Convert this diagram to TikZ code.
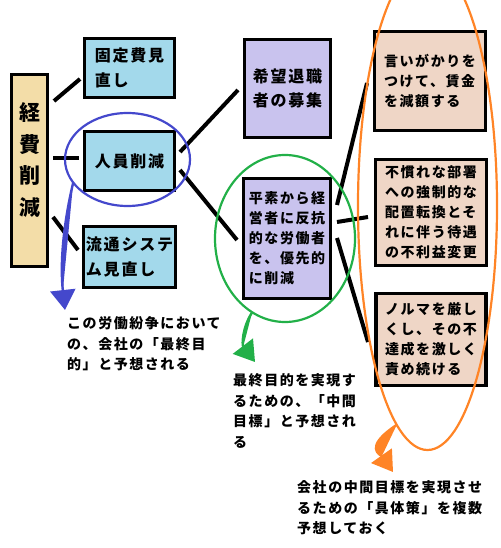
\documentclass[tikz,border=0pt]{standalone}
\usepackage{fontspec}
\usetikzlibrary{arrows.meta,shapes.geometric}
\newfontfamily\jp{Noto Sans CJK JP}[LetterSpace=11]
\definecolor{boxblue}{HTML}{A3D9EB}
\definecolor{boxlav}{HTML}{C9C3EE}
\definecolor{boxwheat}{HTML}{F3DDA8}
\definecolor{boxpink}{HTML}{EFD6C6}
\definecolor{ellblue}{HTML}{4448CC}
\definecolor{ellgreen}{HTML}{22B048}
\definecolor{ellorange}{HTML}{FF8426}
\begin{document}
\begin{tikzpicture}[x=1pt,y=-1pt,
  box/.style={draw=black,line width=3.3pt,inner sep=0pt,outer sep=0pt,align=left},
  bigtxt/.style={font=\jp\bfseries\fontsize{16}{24.5}\selectfont},
  smalltxt/.style={font=\jp\bfseries\fontsize{14}{20}\selectfont},
  lbl/.style={inner sep=0pt,align=left,anchor=north west,font=\jp\bfseries\fontsize{14}{20.5}\selectfont},
  conn/.style={draw=black,line width=4pt},
  ring/.style={shape=ellipse,inner sep=0pt,outer sep=0pt,line width=2.2pt},
  ptr/.style={line width=2.4pt,-{Triangle[length=20pt,width=25pt]}}]
\useasboundingbox (0,0) rectangle (500,548);
\clip (0,0) rectangle (500,548);
% boxes
\node[box,fill=boxwheat,align=center,font=\jp\bfseries\fontsize{21}{31.5}\selectfont,
  minimum width=36pt,minimum height=192pt] (keihi) at (29.5,170.5) {経\\費\\削\\減\\[-9pt]\mbox{}};
\node[box,bigtxt,fill=boxblue,minimum width=90pt,minimum height=59pt] (kotei) at (129.5,68) {固定費見\\直し};
\node[box,bigtxt,fill=boxblue,minimum width=90pt,minimum height=59pt] (jinin) at (129.5,161) {人員削減};
\node[box,bigtxt,fill=boxblue,minimum width=92pt,minimum height=61pt] (ryutsu) at (129.5,257) {流通システ\\ム見直し};
\node[box,bigtxt,fill=boxlav,minimum width=86pt,minimum height=98pt] (kibou) at (287.5,88.5) {希望退職\\者の募集};
\node[box,smalltxt,fill=boxlav,minimum width=87pt,minimum height=120pt] (heiso) at (287,238.5) {平素から経\\営者に反抗\\的な労働者\\を、優先的\\に削減};
\node[box,smalltxt,fill=boxpink,minimum width=111pt,minimum height=99pt] (r1) at (430,81) {言いがかりを\\つけて、賃金\\を減額する};
\node[box,smalltxt,fill=boxpink,minimum width=111pt,minimum height=106pt] (r2) at (431,212.5) {不慣れな部署\\への強制的な\\配置転換とそ\\れに伴う待遇\\の不利益変更};
\node[box,smalltxt,fill=boxpink,minimum width=110pt,minimum height=92pt] (r3) at (431,339.5) {ノルマを厳し\\くし、その不\\達成を激しく\\責め続ける};
% connectors
\draw[conn] ([shift={(24.5,-69.5)}]keihi.center) -- ([shift={(-49.5,11)}]kotei.center);
\draw[conn] ([shift={(23.5,-12.5)}]keihi.center) -- ([shift={(-50.5,-3)}]jinin.center);
\draw[conn] ([shift={(23.5,46.5)}]keihi.center) -- ([shift={(-51.5,-7)}]ryutsu.center);
\draw[conn] ([shift={(50.5,-9)}]jinin.center) -- ([shift={(-49.5,1.5)}]kibou.center);
\draw[conn] ([shift={(50.5,9)}]jinin.center) -- ([shift={(-50,1.5)}]heiso.center);
\draw[conn] ([shift={(50,-33.5)}]heiso.center) -- ([shift={(-63,2)}]r1.center);
\draw[conn] ([shift={(50,-16.5)}]heiso.center) -- ([shift={(-63,4.5)}]r2.center);
\draw[conn] ([shift={(50,-0.5)}]heiso.center) -- ([shift={(-63,2.5)}]r3.center);
% ellipses
\node[ring,draw=ellblue,minimum width=125pt,minimum height=93pt] (eB) at (127.5,159.5) {};
\node[ring,draw=ellgreen,minimum width=140pt,minimum height=167pt] (eG) at (285,238.5) {};
\node[ring,draw=ellorange,minimum width=139pt,minimum height=488pt] (eO) at (427.5,206) {};
% labels
\node[lbl] (lA) at (67,316.5) {この労働紛争において\\の、会社の「最終目\\的」と予想される};
\node[lbl] (lB) at (233,373.5) {最終目的を実現す\\るための、「中間\\目標」と予想され\\る};
\node[lbl] (lC) at (297,480.5) {会社の中間目標を実現させ\\るための「具体策」を複数\\予想しておく};
% arrow tips
\coordinate (tA) at (65,310);
\coordinate (tB) at (255,362);
\coordinate (tC) at (393,472);
\draw[ptr,draw=ellblue,fill=ellblue] (eB.203) .. controls (63,225) and (60,265) .. (tA);
\draw[ptr,draw=ellgreen,fill=ellgreen] (eG.246) .. controls (242,328) and (242,345) .. (tB);
\draw[ptr,draw=ellorange,fill=ellorange] (eO.262) .. controls (362,448) and (381,455) .. (tC);
\end{tikzpicture}
\end{document}
